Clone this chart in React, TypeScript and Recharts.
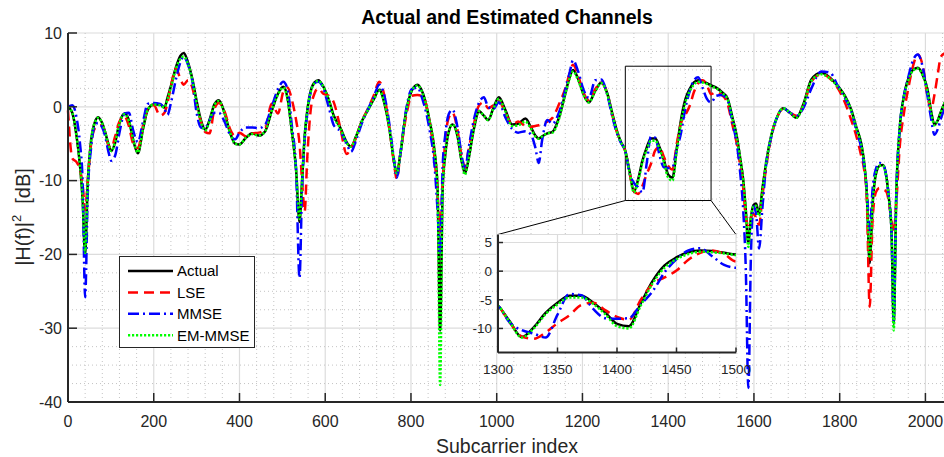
import React from 'react';
import {
  LineChart,
  Line,
  XAxis,
  YAxis,
  CartesianGrid,
  ReferenceLine,
  ReferenceArea,
} from 'recharts';

// subcarrier positions shared by all four curves
const idx = [
  0, 10, 20, 28, 34, 40, 46, 54, 62, 70, 78, 86, 94, 101,
  110, 120, 132, 142, 152, 163, 175, 186, 200, 215, 225, 232,
  240, 252, 262, 270, 280, 290, 300, 310, 320, 330, 342, 352,
  365, 378, 390, 400, 415, 430, 445, 460, 475, 490, 502,
  512, 522, 532, 540, 546, 552, 558, 566, 575, 584, 595, 608,
  620, 635, 650, 660, 672, 685, 700, 713, 726, 738,
  750, 760, 767, 775, 788, 802, 815, 828, 843, 855,
  862, 868, 874, 880, 888, 897, 908, 918, 926, 934, 945,
  959, 970, 980, 992, 1005, 1020, 1036, 1050, 1067,
  1080, 1090, 1098, 1106, 1118, 1130, 1145, 1160, 1170, 1178,
  1190, 1202, 1215, 1230, 1244, 1258, 1270, 1280, 1290, 1300,
  1310, 1320, 1330, 1340, 1350, 1360, 1370, 1380, 1390, 1400,
  1410, 1420, 1430, 1440, 1450, 1460, 1470, 1480, 1490, 1500,
  1512, 1525, 1538, 1550, 1560, 1568, 1575, 1581, 1587, 1593,
  1599, 1605, 1612, 1620, 1629, 1640, 1654, 1668, 1684, 1699,
  1715, 1734, 1757, 1778, 1796, 1812, 1827, 1839, 1850,
  1857, 1863, 1870, 1877, 1885, 1893, 1901, 1909, 1915, 1921, 1926, 1932,
  1940, 1950, 1960, 1971, 1982, 1994, 2005, 2013, 2021, 2029, 2036, 2047,
];

const actual = [
  0, -0.8, -4.0, -8.0, -12.5, -20.0, -10.5, -4.5, -2.2, -1.4, -2.0, -3.3, -5.0, -6.0,
  -4.8, -2.2, -0.9, -1.8, -4.5, -6.3, -3.0, -0.4, 0.3, 0.3, -0.1, 1.2,
  2.8, 5.4, 6.9, 7.3, 6.0, 3.8, 0.8, -1.8, -3.1, -1.8, 0.4, 0.9,
  -0.8, -3.5, -5.0, -5.1, -4.2, -3.6, -3.9, -3.3, -0.6, 1.8, 2.7,
  1.2, -3.3, -8.5, -15.6, -10.0, -4.0, -0.6, 2.1, 3.3, 3.6, 2.8, 1.0,
  -1.2, -2.8, -4.8, -5.4, -4.0, -2.0, -0.4, 1.0, 2.3, 0.5,
  -3.1, -7.2, -9.0, -6.5, -0.9, 2.2, 3.0, 1.8, -1.8, -6.0,
  -11.0, -30.3, -11.0, -6.5, -3.4, -2.4, -3.8, -7.3, -9.0, -7.2, -3.5,
  -0.6, -1.2, -1.8, -0.2, 1.3, -0.4, -2.4, -2.3, -1.6,
  -2.8, -3.9, -4.3, -4.0, -3.6, -3.4, -1.5, 1.8, 4.0, 5.0,
  3.8, 1.8, 0.6, 2.2, 3.3, 1.8, -1.0, -3.2, -4.8, -6.0,
  -8.8, -11.5, -9.8, -7.3, -5.5, -4.3, -4.3, -5.5, -7.2, -9.2,
  -9.6, -5.6, -1.7, 1.0, 2.4, 3.3, 3.6, 3.5, 3.2, 2.9,
  2.6, 2.0, 1.2, -1.5, -4.0, -7.0, -9.9, -14.0, -18.5, -15.0,
  -13.3, -13.1, -14.5, -11.0, -7.4, -4.0, -1.4, -0.2, -0.8, -1.5,
  0.3, 3.7, 4.6, 3.9, 2.8, 1.5, -0.4, -2.8, -4.9,
  -7.5, -11.5, -21.2, -13.0, -9.0, -8.0, -7.9, -9.5, -12.5, -17.0, -29.4, -12.0,
  -3.0, 1.5, 3.8, 5.0, 5.3, 4.3, 2.3, -0.5, -2.4, -1.8, -0.7, 0.8,
];

const lse = [
  -0.5, -7.0, -7.5, -8.5, -10.5, -14.0, -10.0, -5.0, -3.0, -2.6, -2.5, -3.5, -5.2, -5.6,
  -4.0, -2.0, -1.3, -2.6, -5.0, -5.6, -2.5, -0.3, 0.2, -1.2, -0.8, 0.5,
  2.8, 5.2, 3.8, 3.0, 3.6, 2.6, 0.0, -2.0, -3.4, -3.6, -0.2, 0.5,
  -0.6, -3.0, -4.0, -3.5, -4.0, -3.6, -3.5, -3.0, 0.4, -0.9, 2.0,
  2.6, 1.0, -1.8, -5.0, -10.0, -14.2, -7.0, -0.5, 1.8, 2.5, 1.8, 1.5,
  0.6, -2.8, -6.4, -5.6, -4.2, -2.0, -0.2, 1.5, 3.4, 1.5,
  -3.0, -7.5, -9.8, -6.5, -1.5, 1.5, 1.6, 1.4, -2.0, -7.0,
  -12.0, -17.0, -10.0, -4.5, -1.5, -0.8, -3.0, -6.6, -8.2, -6.0, -2.8,
  0.2, 0.6, -0.2, 0.2, 0.8, -0.8, -2.4, -2.0, -2.6,
  -2.7, -2.6, -2.5, -2.3, -2.0, -1.5, 0.3, 2.5, 4.5, 5.7,
  4.2, 2.0, 0.9, 2.4, 3.3, 1.8, -1.2, -3.4, -4.8, -6.0,
  -9.0, -11.4, -11.8, -10.7, -9.1, -7.7, -5.9, -5.5, -6.8, -8.0,
  -8.5, -5.0, -2.2, -1.1, 0.1, 2.0, 3.2, 3.6, 3.0, 1.7,
  2.0, 1.6, 0.5, -2.5, -5.0, -8.0, -11.0, -15.0, -16.0, -15.0,
  -14.5, -15.0, -16.0, -12.0, -8.0, -4.2, -1.4, -0.3, -0.8, -1.2,
  0.0, 3.4, 4.4, 3.8, 2.5, 0.6, -1.8, -4.0, -6.6,
  -8.5, -12.0, -27.1, -15.0, -11.5, -11.0, -11.2, -11.5, -13.0, -15.5, -17.0, -13.0,
  -5.5, -0.8, 2.5, 5.5, 7.1, 5.5, 1.4, -0.4, 1.6, 4.5, 6.8, 7.3,
];

const mmse = [
  0, 0.2, -1.5, -5.0, -10.0, -25.8, -12.0, -5.5, -2.6, -2.2, -2.6, -3.8, -6.0, -7.3,
  -6.6, -3.5, -0.9, -0.8, -3.2, -4.8, -2.0, 0.4, 0.5, 0.4, -0.3, -1.1,
  0.5, 3.8, 6.0, 6.8, 5.7, 3.5, -0.8, -2.8, -2.9, -1.8, -0.8, -0.8,
  -2.0, -3.8, -4.4, -3.5, -2.8, -2.8, -2.9, -2.4, 0.0, 2.4, 3.4,
  2.4, -2.5, -8.5, -23.2, -11.0, -4.5, -1.0, 2.0, 3.2, 3.4, 2.6, 0.0,
  -2.5, -3.3, -5.0, -6.1, -4.5, -2.3, -0.3, 1.3, 3.0, 1.5,
  -2.5, -7.0, -9.6, -6.5, -0.6, 2.4, 2.6, 0.8, -3.0, -8.0,
  -14.0, -20.0, -8.0, -3.8, -1.0, -0.4, -2.6, -6.5, -8.5, -5.8, -2.2,
  0.6, 1.3, 0.0, -0.3, 0.6, -1.4, -3.0, -3.5, -3.3,
  -3.8, -5.5, -7.6, -4.5, -1.8, -2.3, -0.8, 2.3, 4.6, 6.3,
  4.8, 2.4, 1.2, 3.6, 3.7, 1.6, -1.4, -3.5, -4.9, -6.0,
  -9.0, -10.3, -10.9, -11.6, -7.6, -4.0, -4.2, -6.6, -8.2, -8.3,
  -8.2, -5.8, -3.5, -0.2, 2.1, 3.6, 4.0, 2.6, 1.1, 0.6,
  1.5, 1.6, 1.0, -2.2, -5.0, -9.0, -14.0, -22.0, -38.1, -20.0,
  -13.5, -14.5, -19.2, -13.5, -7.6, -4.2, -1.4, -0.2, -0.8, -1.2,
  -0.2, 2.5, 4.8, 4.6, 2.8, 1.2, -0.6, -3.2, -5.5,
  -8.0, -11.0, -16.7, -11.0, -8.3, -7.6, -7.8, -9.5, -12.5, -17.0, -29.0, -12.0,
  -3.0, 1.5, 4.0, 6.3, 7.1, 5.3, 1.4, -1.5, -3.8, -3.0, -1.6, 0.0,
];

const emMmse = [
  0, -0.8, -4.0, -8.0, -12.5, -19.8, -10.5, -4.5, -2.2, -1.5, -2.0, -3.3, -5.0, -6.0,
  -4.8, -2.3, -1.0, -1.9, -4.4, -6.2, -3.0, -0.4, 0.3, 0.2, -0.1, 1.0,
  2.6, 5.2, 6.5, 6.8, 5.8, 3.6, 0.6, -2.0, -3.2, -2.0, 0.3, 0.8,
  -0.9, -3.5, -5.0, -5.1, -4.2, -3.7, -3.9, -3.3, -0.6, 1.7, 2.6,
  1.1, -3.3, -8.5, -15.2, -10.0, -4.0, -0.6, 2.0, 3.2, 3.5, 2.8, 1.0,
  -1.4, -2.9, -4.9, -5.4, -4.0, -2.0, -0.4, 1.0, 2.2, 0.5,
  -3.1, -7.2, -9.0, -6.5, -0.9, 2.2, 2.9, 1.7, -1.8, -6.0,
  -11.0, -37.7, -11.0, -6.5, -3.4, -2.4, -3.8, -7.3, -9.2, -7.2, -3.5,
  -0.6, -1.2, -1.8, -0.3, 1.1, -0.6, -2.6, -2.5, -2.0,
  -3.0, -4.0, -4.3, -4.0, -3.6, -3.5, -1.7, 1.7, 3.8, 4.8,
  3.6, 1.7, 0.6, 2.1, 3.2, 1.7, -1.1, -3.3, -4.8, -6.0,
  -8.9, -11.6, -10.0, -7.5, -5.8, -4.6, -4.6, -5.7, -7.5, -9.6,
  -10.0, -6.0, -2.1, 0.6, 2.1, 3.0, 3.4, 3.3, 3.1, 2.8,
  2.5, 1.9, 1.1, -1.6, -4.1, -7.0, -10.0, -14.0, -19.0, -15.0,
  -13.5, -13.4, -14.8, -11.2, -7.5, -4.0, -1.4, -0.2, -0.8, -1.5,
  0.2, 3.5, 4.4, 3.8, 2.7, 1.4, -0.5, -2.9, -5.0,
  -7.5, -11.5, -20.5, -13.0, -9.0, -8.0, -8.0, -9.6, -12.5, -17.0, -30.3, -12.0,
  -3.0, 1.4, 3.6, 4.9, 5.2, 4.2, 2.1, -0.6, -2.5, -1.8, -0.7, 0.8,
];

const xTicks = [0, 200, 400, 600, 800, 1000, 1200, 1400, 1600, 1800, 2000];
const yTicks = [-40, -30, -20, -10, 0, 10];
const insetXTicks = [1300, 1350, 1400, 1450, 1500];
const insetYTicks = [-10, -5, 0, 5];

const rows = idx.map((x, i) => ({
  x,
  actual: actual[i],
  lse: lse[i],
  mmse: mmse[i],
  emMmse: emMmse[i],
}));
const insetRows = rows.filter((r) => r.x >= 1280 && r.x <= 1520);

const series = [
  { key: 'actual', name: 'Actual', color: '#000000', dash: undefined as string | undefined },
  { key: 'lse', name: 'LSE', color: '#ff0000', dash: '10 6' },
  { key: 'mmse', name: 'MMSE', color: '#0000ff', dash: '11 4 2 4' },
  { key: 'emMmse', name: 'EM-MMSE', color: '#00ff00', dash: '2.2 1.8' },
];

// minor grid (dotted)
const minorX: number[] = [];
for (let v = 40; v <= 2040; v += 40) if (v % 200 !== 0) minorX.push(v);
const minorY: number[] = [];
for (let v = -37.5; v < 10; v += 2.5) if (v % 10 !== 0) minorY.push(v);

const AXIS = '#262626';
const FONT = '"Liberation Sans", Arial, Helvetica, sans-serif';

// zoom box and the corners of the inset in main-chart units
const zoomBox = { x1: 1300, x2: 1500, y1: -12.7, y2: 5.5 };
const insetCornerL = { x: 1003, y: -17.3 };
const insetCornerR = { x: 1558, y: -17.3 };

type Side = 'bottom' | 'left' | 'top' | 'right';
const makeTick = (side: Side, len: number, fontSize: number, label: boolean, gap: number) =>
  (props: any) => {
    const { x, y, payload } = props;
    let line;
    if (side === 'bottom') line = <line x1={x} x2={x} y1={y} y2={y - len} />;
    else if (side === 'top') line = <line x1={x} x2={x} y1={y} y2={y + len} />;
    else if (side === 'left') line = <line x1={x} x2={x + len} y1={y} y2={y} />;
    else line = <line x1={x} x2={x - len} y1={y} y2={y} />;
    return (
      <g>
        <g stroke={AXIS} strokeWidth={1.5}>{line}</g>
        {label && side === 'bottom' && (
          <text x={x} y={y + gap} textAnchor="middle" fontSize={fontSize} fill={AXIS} fontFamily={FONT}>
            {payload.value}
          </text>
        )}
        {label && side === 'left' && (
          <text x={x - gap} y={y + fontSize * 0.36} textAnchor="end" fontSize={fontSize} fill={AXIS} fontFamily={FONT}>
            {payload.value}
          </text>
        )}
      </g>
    );
  };

const renderLines = () =>
  series.map((s) => (
    <Line
      key={s.key}
      type="monotone"
      dataKey={s.key}
      name={s.name}
      stroke={s.color}
      strokeWidth={2.5}
      strokeDasharray={s.dash}
      dot={false}
      activeDot={false}
      isAnimationActive={false}
    />
  ));

const Legend = () => (
  <div
    style={{
      position: 'absolute',
      left: 119,
      top: 256,
      width: 136,
      height: 92,
      boxSizing: 'border-box',
      border: '1px solid #262626',
      background: '#fff',
    }}
  >
    <svg width={134} height={90}>
      {series.map((s, i) => {
        const y = 14 + i * 21.4;
        return (
          <g key={s.key}>
            <line x1={8} x2={53} y1={y} y2={y} stroke={s.color} strokeWidth={2.5} strokeDasharray={s.dash} />
            <text x={57} y={y + 5.4} fontSize={15} fontFamily={FONT} fill="#000">
              {s.name}
            </text>
          </g>
        );
      })}
    </svg>
  </div>
);

const Inset = () => (
  <div style={{ position: 'absolute', left: 458, top: 224 }}>
    <LineChart width={320} height={160} data={insetRows} margin={{ top: 10.5, right: 42, bottom: 6.5, left: 0 }}>
      <CartesianGrid fill="#ffffff" fillOpacity={1} stroke="#dcdcdc" strokeWidth={1.2} />
      <XAxis
        dataKey="x"
        type="number"
        domain={[1300, 1500]}
        ticks={insetXTicks}
        allowDataOverflow
        interval={0}
        height={25}
        tickSize={0}
        tickMargin={0}
        axisLine={{ stroke: AXIS, strokeWidth: 2 }}
        tick={makeTick('bottom', 5, 13.5, true, 21)}
      />
      <XAxis
        xAxisId="top"
        orientation="top"
        type="number"
        domain={[1300, 1500]}
        ticks={insetXTicks}
        allowDataOverflow
        interval={0}
        height={0}
        tickSize={0}
        tickMargin={0}
        axisLine={{ stroke: AXIS, strokeWidth: 2 }}
        tick={makeTick('top', 5, 13, false, 0)}
      />
      <YAxis
        type="number"
        domain={[-14.2, 6.4]}
        ticks={insetYTicks}
        allowDataOverflow
        interval={0}
        width={40}
        tickSize={0}
        tickMargin={0}
        axisLine={{ stroke: AXIS, strokeWidth: 2 }}
        tick={makeTick('left', 5, 13.5, true, 6)}
      />
      <YAxis
        yAxisId="right"
        orientation="right"
        type="number"
        domain={[-14.2, 6.4]}
        ticks={insetYTicks}
        allowDataOverflow
        interval={0}
        width={0}
        tickSize={0}
        tickMargin={0}
        axisLine={{ stroke: AXIS, strokeWidth: 2 }}
        tick={makeTick('right', 5, 13, false, 0)}
      />
      {renderLines()}
    </LineChart>
  </div>
);

const App: React.FC = () => (
  <div
    style={{
      position: 'absolute',
      left: 0,
      top: 0,
      width: 944,
      height: 457,
      overflow: 'hidden',
      background: '#fff',
      fontFamily: FONT,
    }}
  >
    <div
      style={{
        position: 'absolute',
        left: 507,
        top: 5,
        transform: 'translateX(-50%)',
        whiteSpace: 'nowrap',
        fontSize: 19.5,
        fontWeight: 'bold',
        lineHeight: '24px',
        color: '#000',
      }}
    >
      Actual and Estimated Channels
    </div>

    <LineChart width={960} height={457} data={rows} margin={{ top: 33, right: 14, bottom: 15, left: 8 }}>
      <CartesianGrid stroke="#dcdcdc" strokeWidth={1.2} />
      {minorX.map((v) => (
        <ReferenceLine key={`mx${v}`} x={v} stroke="#c4c4c4" strokeWidth={1} strokeDasharray="1 3" />
      ))}
      {minorY.map((v) => (
        <ReferenceLine key={`my${v}`} y={v} stroke="#c4c4c4" strokeWidth={1} strokeDasharray="1 3" />
      ))}
      <XAxis
        dataKey="x"
        type="number"
        domain={[0, 2048]}
        ticks={xTicks}
        interval={0}
        height={40}
        tickSize={0}
        tickMargin={0}
        axisLine={{ stroke: AXIS, strokeWidth: 2 }}
        tick={makeTick('bottom', 9, 16, true, 25)}
      />
      <XAxis
        xAxisId="top"
        orientation="top"
        type="number"
        domain={[0, 2048]}
        ticks={xTicks}
        interval={0}
        height={0}
        tickSize={0}
        tickMargin={0}
        axisLine={{ stroke: AXIS, strokeWidth: 2 }}
        tick={makeTick('top', 9, 16, false, 0)}
      />
      <YAxis
        type="number"
        domain={[-40, 10]}
        ticks={yTicks}
        interval={0}
        width={60}
        tickSize={0}
        tickMargin={0}
        axisLine={{ stroke: AXIS, strokeWidth: 2 }}
        tick={makeTick('left', 9, 16, true, 6)}
      />
      <YAxis
        yAxisId="right"
        orientation="right"
        type="number"
        domain={[-40, 10]}
        ticks={yTicks}
        interval={0}
        width={0}
        tickSize={0}
        tickMargin={0}
        axisLine={{ stroke: AXIS, strokeWidth: 2 }}
        tick={makeTick('right', 9, 16, false, 0)}
      />
      {renderLines()}
      <ReferenceArea
        x1={zoomBox.x1}
        x2={zoomBox.x2}
        y1={zoomBox.y1}
        y2={zoomBox.y2}
        fill="none"
        fillOpacity={0}
        stroke="#000"
        strokeWidth={1}
      />
      <ReferenceLine
        segment={[{ x: zoomBox.x1, y: zoomBox.y1 }, insetCornerL]}
        stroke="#000"
        strokeWidth={1}
      />
      <ReferenceLine
        segment={[{ x: zoomBox.x2, y: zoomBox.y1 }, insetCornerR]}
        stroke="#000"
        strokeWidth={1}
      />
    </LineChart>

    <div
      style={{
        position: 'absolute',
        left: 23,
        top: 217,
        transform: 'translate(-50%, -50%) rotate(-90deg)',
        whiteSpace: 'nowrap',
        fontSize: 20,
        lineHeight: '24px',
        color: AXIS,
      }}
    >
      |H(f)|<sup style={{ fontSize: 13, verticalAlign: 'top', position: 'relative', top: -6 }}>2</sup>
      {'\u00a0\u00a0[dB]'}
    </div>

    <div
      style={{
        position: 'absolute',
        left: 507,
        top: 434,
        transform: 'translateX(-50%)',
        whiteSpace: 'nowrap',
        fontSize: 19.5,
        lineHeight: '24px',
        color: AXIS,
      }}
    >
      Subcarrier index
    </div>

    <Legend />
    <Inset />
  </div>
);

export default App;
